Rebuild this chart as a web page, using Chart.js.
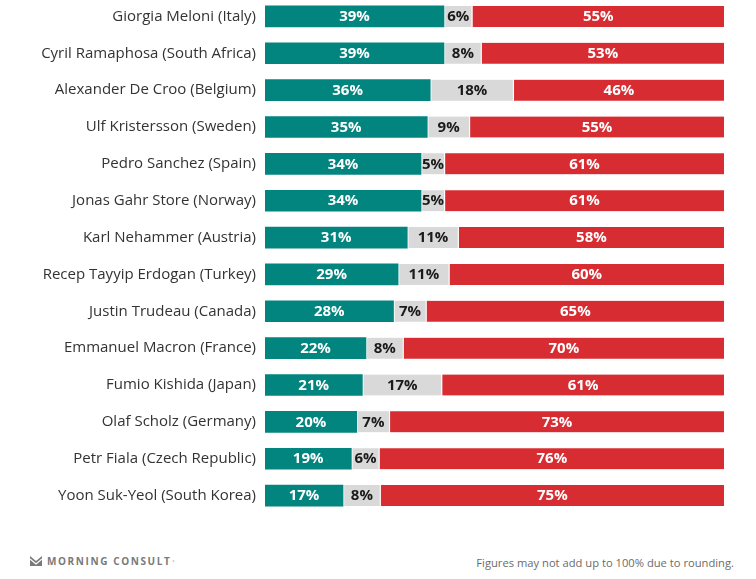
<!DOCTYPE html>
<html>
<head>
<meta charset="utf-8">
<script src="https://cdn.jsdelivr.net/npm/chart.js@4.4.1/dist/chart.umd.min.js"></script>
<style>
  html, body { margin: 0; padding: 0; background: #fff; }
  body { width: 756px; height: 579px; position: relative; overflow: hidden; font-family: "Open Sans", sans-serif; }
  #wrap { position: absolute; left: 0; top: -2px; width: 756px; height: 516px; }
  .logo { position: absolute; left: 30px; top: 554px; font-family: "Open Sans", sans-serif; font-weight: 700;
          font-size: 10px; letter-spacing: 1.6px; color: #7a7a7a; display: flex; align-items: center; }
  .logo svg { margin-right: 5px; }
  .logo sup { font-size: 4px; letter-spacing: 0; margin-left: 1px; vertical-align: top; }
  .note { position: absolute; right: 22px; top: 555px; font-size: 11.2px; color: #6b6b6b; font-family: "Open Sans", sans-serif; }
</style>
</head>
<body>
<div id="wrap"><canvas id="chart"></canvas></div>
<div class="logo">
  <svg width="12" height="10" viewBox="0 0 12 10"><path d="M0 0 L6 5 L12 0 L12 10 L0 10 Z" fill="#7a7a7a"/><path d="M0 3 L6 8 L12 3" stroke="#fff" stroke-width="1.2" fill="none"/></svg>
  MORNING CONSULT<sup>&#176;</sup>
</div>
<div class="note">Figures may not add up to 100% due to rounding.</div>
<script>
const leaders = [
  'Giorgia Meloni (Italy)',
  'Cyril Ramaphosa (South Africa)',
  'Alexander De Croo (Belgium)',
  'Ulf Kristersson (Sweden)',
  'Pedro Sanchez (Spain)',
  'Jonas Gahr Store (Norway)',
  'Karl Nehammer (Austria)',
  'Recep Tayyip Erdogan (Turkey)',
  'Justin Trudeau (Canada)',
  'Emmanuel Macron (France)',
  'Fumio Kishida (Japan)',
  'Olaf Scholz (Germany)',
  'Petr Fiala (Czech Republic)',
  'Yoon Suk-Yeol (South Korea)'
];
const approve    = [39, 39, 36, 35, 34, 34, 31, 29, 28, 22, 21, 20, 19, 17];
const unsure     = [6, 8, 18, 9, 5, 5, 11, 11, 7, 8, 17, 7, 6, 8];
const disapprove = [55, 53, 46, 55, 61, 61, 58, 60, 65, 70, 61, 73, 76, 75];

// bars fill the full width, so scale each row by its own total
const totals = approve.map((v, i) => v + unsure[i] + disapprove[i]);
const share = arr => arr.map((v, i) => v / totals[i] * 100);

const labelPlugin = {
    id: 'segLabels',
    afterDatasetsDraw(chart) {
        const ctx = chart.ctx;
        ctx.save();
        ctx.font = 'bold 15px "Open Sans", sans-serif';
        ctx.textAlign = 'center';
        ctx.textBaseline = 'middle';
        chart.data.datasets.forEach((ds, di) => {
            chart.getDatasetMeta(di).data.forEach((bar, i) => {
                const x = (bar.base + bar.x) / 2 + (di > 0 ? 0.5 : 0);
                ctx.fillStyle = di === 1 ? '#1a1a1a' : '#ffffff';
                ctx.fillText(ds.raw[i] + '%', x, bar.y + 0.5);
            });
        });
        ctx.restore();
    }
};

new Chart(document.getElementById('chart'), {
    type: 'bar',
    data: {
        labels: leaders,
        datasets: [
            { raw: approve, data: share(approve), backgroundColor: '#02847f', borderWidth: 0 },
            { raw: unsure, data: share(unsure), backgroundColor: '#d9d9d9',
              borderColor: '#ffffff', borderWidth: { left: 1.5, right: 0, top: 0, bottom: 0 }, borderSkipped: false },
            { raw: disapprove, data: share(disapprove), backgroundColor: '#d72c31',
              borderColor: '#ffffff', borderWidth: { left: 1.5, right: 0, top: 0, bottom: 0 }, borderSkipped: false }
        ]
    },
    options: {
        indexAxis: 'y',
        responsive: true,
        maintainAspectRatio: false,
        animation: false,
        layout: { padding: { left: 0, right: 32, top: 0, bottom: 0 } },
        barThickness: 21,
        plugins: { legend: { display: false }, tooltip: { enabled: false } },
        scales: {
            x: { stacked: true, min: 0, max: 100, display: false },
            y: {
                stacked: true,
                grid: { display: false, drawTicks: false },
                border: { display: false },
                ticks: { color: '#333333', font: { size: 15, family: '"Open Sans", sans-serif' }, padding: 9 },
                afterFit(scale) {
                    scale.width = 265;
                    scale.paddingTop = 0;
                    scale.paddingBottom = 0;
                }
            }
        }
    },
    plugins: [labelPlugin]
});
</script>
</body>
</html>
